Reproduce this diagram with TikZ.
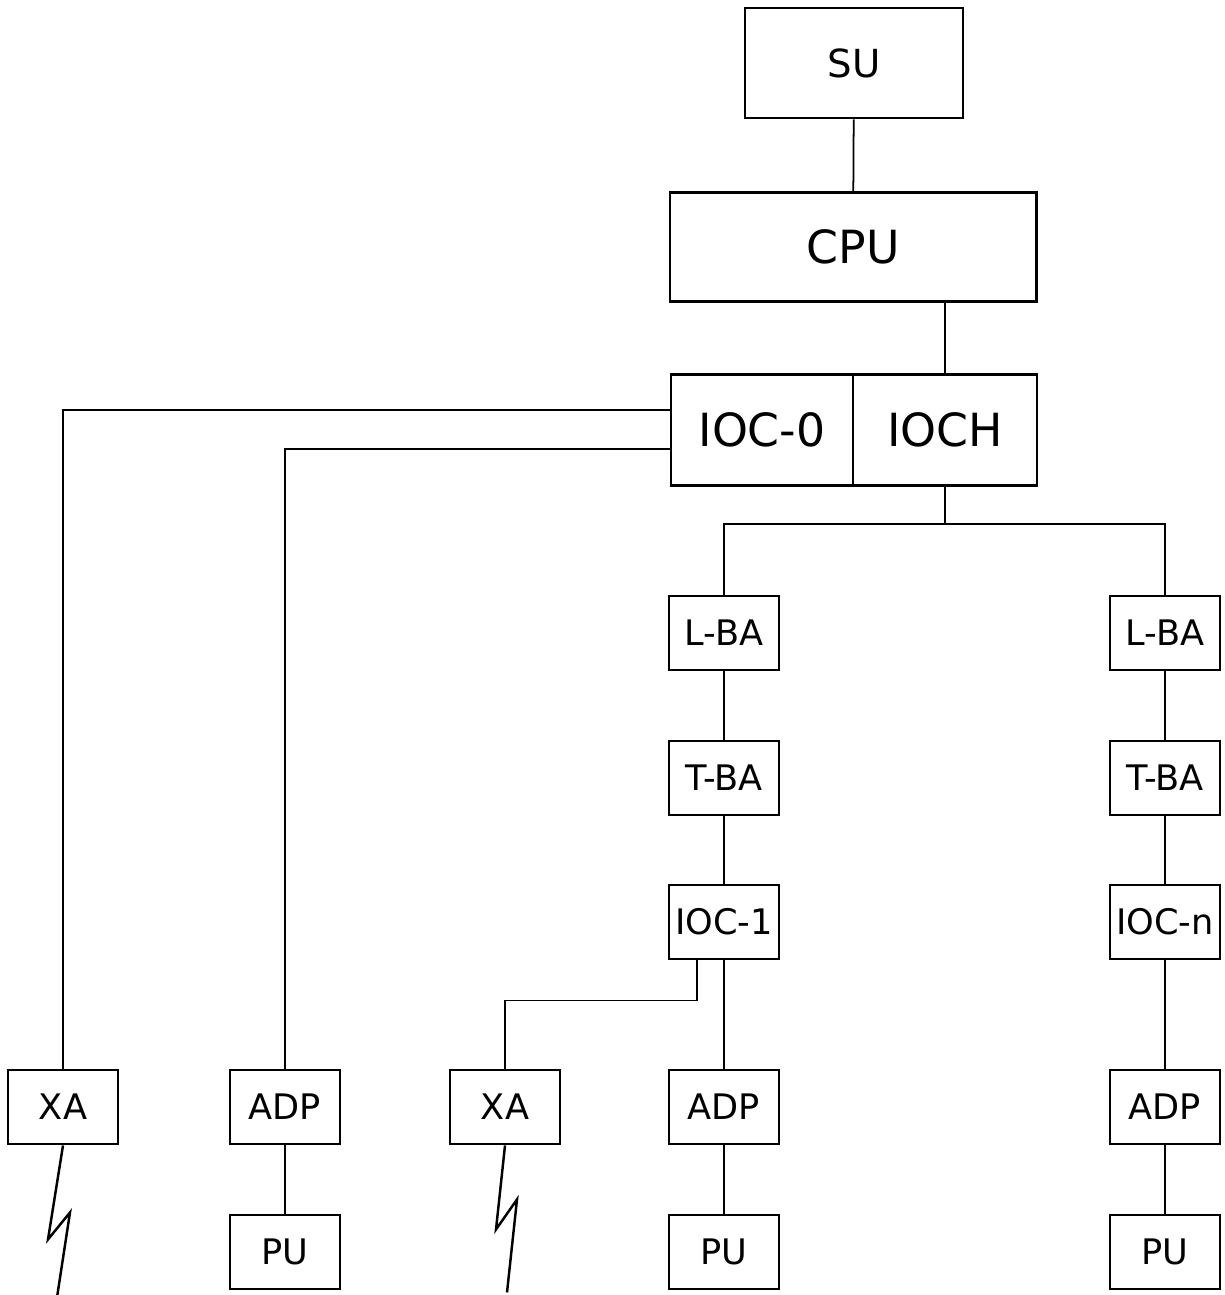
\documentclass[tikz,border=0pt]{standalone}
\usepackage{fontspec}
\setmainfont{DejaVu Sans}
\usetikzlibrary{positioning}

\begin{document}
\begin{tikzpicture}[
  x=0.01cm, y=-0.01cm,
  unitbox/.style={draw, line width=0.8pt, inner sep=0pt, font=\fontsize{13}{15}\selectfont},
  smallbox/.style={draw, line width=0.8pt, inner sep=0pt, minimum width=1.10cm,
    minimum height=0.74cm, font=\fontsize{10}{12}\selectfont},
  wire/.style={line width=0.5pt},
  zap/.style={line width=0.7pt, line join=miter}
]
  %% --- fissa i margini del foglio (pixel del riferimento) ---
  \useasboundingbox (0,0) rectangle (1224,1295);

  %% --- unita' centrali ---
  \node[unitbox, minimum width=2.18cm, minimum height=1.10cm,
    font=\fontsize{11}{13}\selectfont] (su) at (854,63) {SU};
  \node[unitbox, minimum width=3.66cm, minimum height=1.09cm] (cpu) at (853,247) {CPU};
  \node[unitbox, minimum width=1.82cm, minimum height=1.11cm] (ioc0) at (762,430) {IOC-0};
  \node[unitbox, minimum width=1.84cm, minimum height=1.11cm] (ioch) at (945,430) {IOCH};

  %% --- due rami dal canale: colonna sinistra e colonna destra ---
  \def\colL{724}
  \def\colR{1165}
  \foreach \col/\tag/\last in {\colL/L/IOC-1, \colR/R/IOC-n} {
    \node[smallbox] (lba\tag) at (\col,633) {L-BA};
    \node[smallbox] (tba\tag) at (\col,778) {T-BA};
    \node[smallbox] (ioc\tag) at (\col,922) {\last};
    \node[smallbox] (adp\tag) at (\col,1107) {ADP};
    \node[smallbox] (pu\tag)  at (\col,1252) {PU};
  }

  %% --- periferiche collegate direttamente a IOC-0 / IOC-1 ---
  \node[smallbox] (xaA)  at (63,1107)  {XA};
  \node[smallbox] (adpA) at (285,1107) {ADP};
  \node[smallbox] (puA)  at (285,1252) {PU};
  \node[smallbox] (xaB)  at (505,1107) {XA};

  %% --- collegamenti ---
  \draw[wire] (su) -- (cpu);
  \draw[wire] (ioch.north |- cpu.south) -- (ioch.north);
  \draw[wire] ([yshift=0.20cm]ioc0.west) -| (xaA.north);
  \draw[wire] ([yshift=-0.19cm]ioc0.west) -| (adpA.north);
  \draw[wire] (adpA) -- (puA);

  \draw[wire] (ioch.south) -- ++(0,37) coordinate (bus);
  \draw[wire] (lbaL.north) |- (bus) -| (lbaR.north);
  \foreach \tag in {L, R} {
    \draw[wire] (lba\tag) -- (tba\tag);
    \draw[wire] (tba\tag) -- (ioc\tag);
    \draw[wire] (ioc\tag) -- (adp\tag);
    \draw[wire] (adp\tag) -- (pu\tag);
  }
  \draw[wire] ([xshift=-0.27cm]iocL.south) -- ++(0,40) -| (xaB.north);

  %% --- linee radio (fulmine) sotto gli XA ---
  \draw[zap] (xaA.south) -- ++(-15,94) -- ++(22,-27) -- ++(-13,85);
  \draw[zap] (xaB.south) -- ++(-9,84) -- ++(21,-30) -- ++(-10,93);
\end{tikzpicture}
\end{document}
